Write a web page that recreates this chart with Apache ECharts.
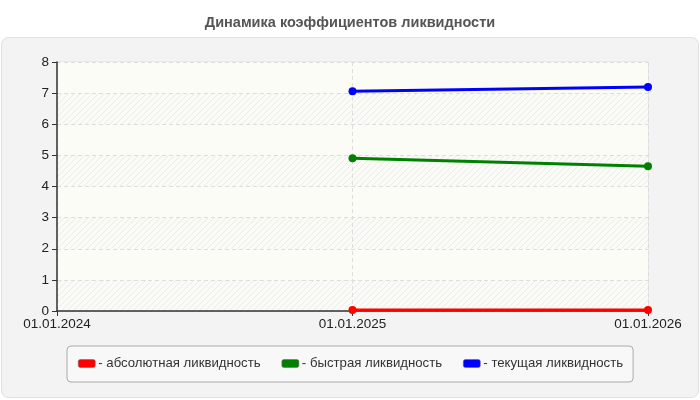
<!DOCTYPE html>
<html>
<head>
<meta charset="utf-8">
<script src="https://cdn.jsdelivr.net/npm/echarts@6/dist/echarts.min.js"></script>
<style>
  html, body { margin: 0; padding: 0; background: #fff; }
  #chart { width: 700px; height: 400px; }
</style>
</head>
<body>
<div id="chart"></div>
<script>
var dates = ['01.01.2024', '01.01.2025', '01.01.2026'];
var absLiquidity = [null, 0.03, 0.03];
var quickLiquidity = [null, 4.91, 4.65];
var currentLiquidity = [null, 7.06, 7.2];
var seriesNames = ['абсолютная ликвидность', 'быстрая ликвидность', 'текущая ликвидность'];
var seriesColors = ['#ff0000', '#008000', '#0000ff'];

// hatched band for the plot background
function makeHatch() {
    var c = document.createElement('canvas');
    c.width = 6; c.height = 6;
    var ctx = c.getContext('2d');
    ctx.fillStyle = '#fafaf6';
    ctx.fillRect(0, 0, 6, 6);
    ctx.strokeStyle = '#ebebe8';
    ctx.lineWidth = 1;
    ctx.beginPath();
    ctx.moveTo(-1, 7); ctx.lineTo(7, -1);
    ctx.moveTo(-4, 4); ctx.lineTo(4, -4);
    ctx.moveTo(2, 10); ctx.lineTo(10, 2);
    ctx.stroke();
    return { image: c, repeat: 'repeat' };
}

var myChart = echarts.init(document.getElementById('chart'));
var font = 'Liberation Sans, Arial, sans-serif';

function lineSeries(i, values) {
    return {
        name: seriesNames[i],
        type: 'line',
        data: values,
        symbol: 'circle',
        symbolSize: 8,
        showSymbol: true,
        lineStyle: { width: 3, color: seriesColors[i] },
        itemStyle: { color: seriesColors[i] },
        emphasis: { disabled: true },
        animation: false
    };
}

var option = {
    animation: false,
    title: {
        text: 'Динамика коэффициентов ликвидности',
        left: 'center',
        top: 10,
        textStyle: { fontFamily: font, fontSize: 14.5, fontWeight: 'bold', color: '#555' }
    },
    graphic: [{
        type: 'rect',
        left: 1, top: 37,
        shape: { width: 697, height: 360, r: 7 },
        style: { fill: '#f3f3f3', stroke: '#e0e0e0', lineWidth: 1 },
        z: -10
    }],
    grid: {
        left: 57, right: 52, top: 62, bottom: 89,
        show: true,
        backgroundColor: '#fcfcf7',
        borderColor: '#dedede',
        borderWidth: 1
    },
    legend: {
        left: 67, top: 346,
        padding: [11, 10, 12, 11],
        itemGap: 21,
        itemWidth: 17,
        itemHeight: 8,
        icon: 'roundRect',
        backgroundColor: '#f8f8f8',
        borderColor: '#aaaaaa',
        borderWidth: 1,
        borderRadius: 4,
        formatter: function (name) { return '- ' + name; },
        textStyle: { fontFamily: font, fontSize: 13.2, color: '#333', padding: [0, 0, 0, -2] },
        data: seriesNames.map(function (n, i) {
            return { name: n, itemStyle: { color: seriesColors[i], borderColor: '#666', borderWidth: 0.5 } };
        })
    },
    xAxis: {
        type: 'category',
        boundaryGap: false,
        data: dates,
        axisLine: { lineStyle: { color: '#333', width: 1.5 } },
        axisTick: { show: true, length: 5, lineStyle: { color: '#333' } },
        axisLabel: { fontFamily: font, fontSize: 13.5, color: '#222', margin: 6 },
        splitLine: { show: true, lineStyle: { color: '#dddddd', type: [4, 3] } }
    },
    yAxis: {
        type: 'value',
        min: 0, max: 8, interval: 1,
        axisLine: { show: true, lineStyle: { color: '#333', width: 1.5 } },
        axisTick: { show: true, length: 5, lineStyle: { color: '#333' } },
        axisLabel: { fontFamily: font, fontSize: 13.5, color: '#222', margin: 8 },
        splitLine: { show: true, lineStyle: { color: '#dddddd', type: [4, 3] } },
        splitArea: { show: true, areaStyle: { color: [makeHatch(), '#fcfcf7'] } }
    },
    series: [
        lineSeries(0, absLiquidity),
        lineSeries(1, quickLiquidity),
        lineSeries(2, currentLiquidity)
    ]
};

myChart.setOption(option);
</script>
</body>
</html>
